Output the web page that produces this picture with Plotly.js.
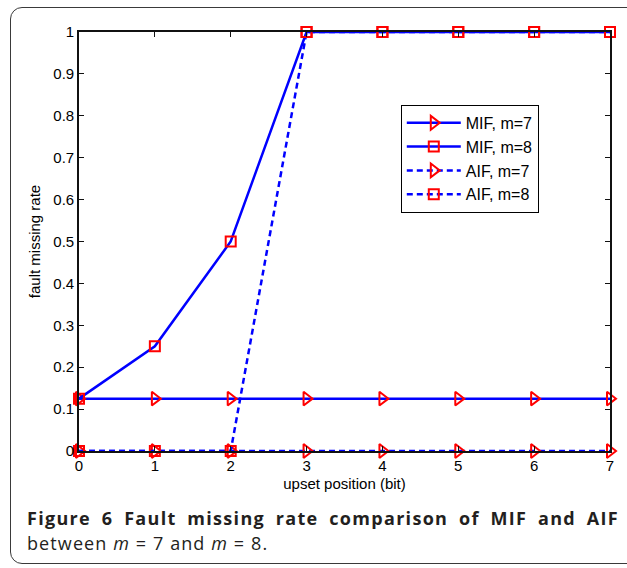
<!DOCTYPE html>
<html>
<head>
<meta charset="utf-8">
<script src="https://cdn.plot.ly/plotly-3.0.1.min.js"></script>
<style>
  html, body { margin: 0; padding: 0; background: #ffffff; }
  #wrap { position: relative; width: 627px; height: 568px; overflow: hidden; background: #ffffff; }
  #chart { position: absolute; left: 0; top: 0; width: 627px; height: 568px; }
  #frame { position: absolute; left: 10px; top: 7px; width: 640px; height: 557px; border: 1.5px solid #3a3a3a; border-radius: 12px; box-sizing: border-box; pointer-events: none; }
  .cap { position: absolute; font-family: "Open Sans", "Noto Sans", sans-serif; font-size: 18px; line-height: 25px; color: #231f20; white-space: nowrap; }
  #cap1 { left: 27px; top: 506px; width: 592px; font-weight: 700; letter-spacing: 1.3px; text-align: justify; text-align-last: justify; white-space: normal; }
  #cap2 { left: 27px; top: 531px; font-weight: 400; letter-spacing: 1.1px; }
</style>
</head>
<body>
<div id="wrap">
  <div id="chart"></div>
  <div id="frame"></div>
  <div class="cap" id="cap1">Figure 6 Fault missing rate comparison of MIF and AIF</div>
  <div class="cap" id="cap2">between <i>m</i> = 7 and <i>m</i> = 8.</div>
</div>
<script>
// ---- data ----
const upsetPosition = [0, 1, 2, 3, 4, 5, 6, 7];
const mifM7 = [0.125, 0.125, 0.125, 0.125, 0.125, 0.125, 0.125, 0.125];
const mifM8 = [0.125, 0.25, 0.5, 1, 1, 1, 1, 1];
const aifM7 = [0, 0, 0, 0, 0, 0, 0, 0];
const aifM8 = [0, 0, 0, 1, 1, 1, 1, 1];
const seriesNames = ['MIF, m=7', 'MIF, m=8', 'AIF, m=7', 'AIF, m=8'];
const yTicks = [0, 0.1, 0.2, 0.3, 0.4, 0.5, 0.6, 0.7, 0.8, 0.9, 1];
const xTicks = [0, 1, 2, 3, 4, 5, 6, 7];

const BLUE = '#0000ff';
const RED = '#ff0000';

function mk(y, name, dash, symbol, size) {
  return {
    x: upsetPosition, y: y, name: name, type: 'scatter', mode: 'lines+markers',
    cliponaxis: false,
    line: { color: BLUE, width: 2.5, dash: dash },
    marker: { symbol: symbol, size: size, color: RED, line: { color: RED, width: 2 } }
  };
}

const traces = [
  mk(mifM7, seriesNames[0], 'solid', 'triangle-right-open', 12),
  mk(mifM8, seriesNames[1], 'solid', 'square-open', 10),
  mk(aifM7, seriesNames[2], '6px,4px', 'triangle-right-open', 12),
  mk(aifM8, seriesNames[3], '6px,4px', 'square-open', 10)
];

const FONT = 'Liberation Sans, Arial, sans-serif';

const layout = {
  width: 627, height: 568,
  margin: { l: 79, r: 17, t: 32, b: 117, pad: 0 },
  paper_bgcolor: '#ffffff', plot_bgcolor: '#ffffff',
  font: { family: FONT, size: 15, color: '#000000' },
  showlegend: true,
  legend: {
    x: 0.606, y: 0.826, xanchor: 'left', yanchor: 'top',
    bgcolor: '#ffffff', bordercolor: '#000000', borderwidth: 1,
    font: { family: FONT, size: 16, color: '#000000' },
    itemwidth: 54, tracegroupgap: 0
  },
  xaxis: {
    range: [0, 7], tickvals: xTicks, ticktext: xTicks.map(String),
    showgrid: false, zeroline: false,
    showline: true, linecolor: '#111111', linewidth: 1.8, mirror: 'ticks',
    ticks: 'inside', ticklen: 5, tickwidth: 1, tickcolor: '#111111',
    tickfont: { family: FONT, size: 15, color: '#000000' },
    title: { text: 'upset position (bit)', font: { family: FONT, size: 15, color: '#000000' }, standoff: 6 }
  },
  yaxis: {
    range: [0, 1], tickvals: yTicks, ticktext: yTicks.map(String),
    showgrid: false, zeroline: false,
    showline: true, linecolor: '#111111', linewidth: 1.8, mirror: 'ticks',
    ticks: 'inside', ticklen: 5, tickwidth: 1, tickcolor: '#111111',
    tickfont: { family: FONT, size: 15, color: '#000000' },
    title: { text: 'fault missing rate', font: { family: FONT, size: 15, color: '#000000' }, standoff: 9 }
  }
};

Plotly.newPlot('chart', traces, layout, { staticPlot: true, displayModeBar: false });
</script>
</body>
</html>
